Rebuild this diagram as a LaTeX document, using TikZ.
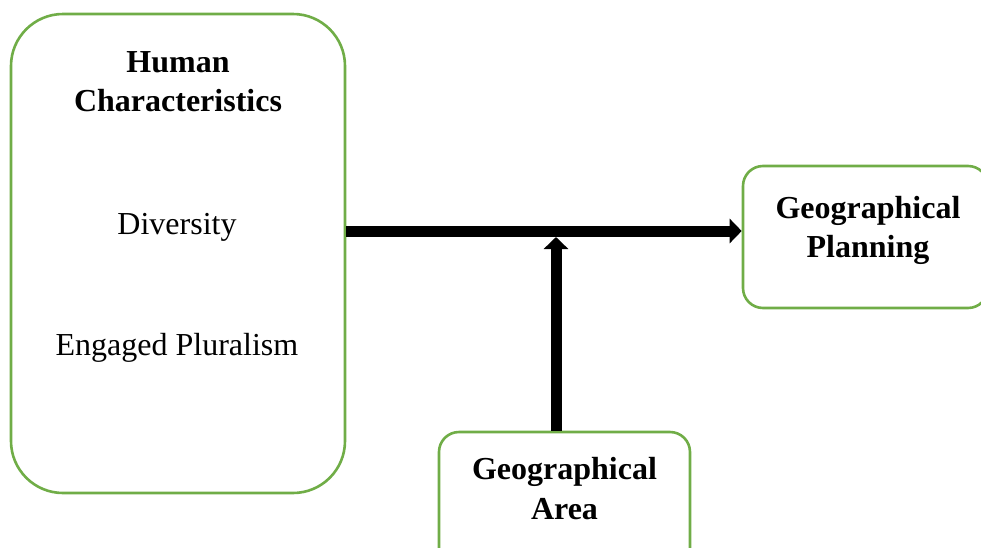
\documentclass[tikz,border=0pt]{standalone}
\usepackage{fontspec}
\setmainfont{Liberation Serif}
\usetikzlibrary{arrows.meta}
\usetikzlibrary{positioning}
\definecolor{boxgreen}{HTML}{70AD47}
\tikzset{
	greenbox/.style={
		draw=boxgreen,
		line width=1.3pt,
		rectangle,
		inner sep=0mm
	},
	title/.style={
		font=\fontsize{16}{19.5}\selectfont\bfseries,
		align=center,
		inner sep=0mm
	},
	item/.style={
		font=\fontsize{16}{19.5}\selectfont,
		inner sep=0mm
	},
	flow/.style={
		line width=5.5pt,
		-{Triangle[width=12pt,length=6pt]}
	}
}

\begin{document}
\begin{tikzpicture}[
		x=0.5pt, y=-0.5pt,
	]

	% Fix the canvas
	\useasboundingbox (0,0) rectangle (981,547);

	% Draw the boxes
	\node (hc) [greenbox, rounded corners=26pt, minimum width=167pt, minimum height=239.5pt] at (178,253.5) {};
	\node (gp) [greenbox, rounded corners=10pt, minimum width=122.5pt, minimum height=71pt] at (865.5,237) {};
	\node (ga) [greenbox, rounded corners=10pt, minimum width=125.5pt, minimum height=69pt] at (564.5,501) {};

	% Texts of the boxes
	\node (hctitle) [title] at (178,82) {Human\\Characteristics};
	\node (div) [item, anchor=base] at (177,234) {Diversity};
	\node (plur) [item, anchor=base] at (177,355) {Engaged Pluralism};
	\node (gptitle) [title] at (868,230) {Geographical\\Planning};
	\node (gatitle) [title, font=\fontsize{16}{20}\selectfont\bfseries] at (564.5,489) {Geographical\\Area};

	% Draw the arrows
	\coordinate (mid) at (556,231);
	\coordinate (tip) at (556,237);
	\draw[flow] (hc.east |- mid) -- (gp.west |- mid);
	\draw[flow] (ga.north -| tip) -- (tip);

\end{tikzpicture}
\end{document}
